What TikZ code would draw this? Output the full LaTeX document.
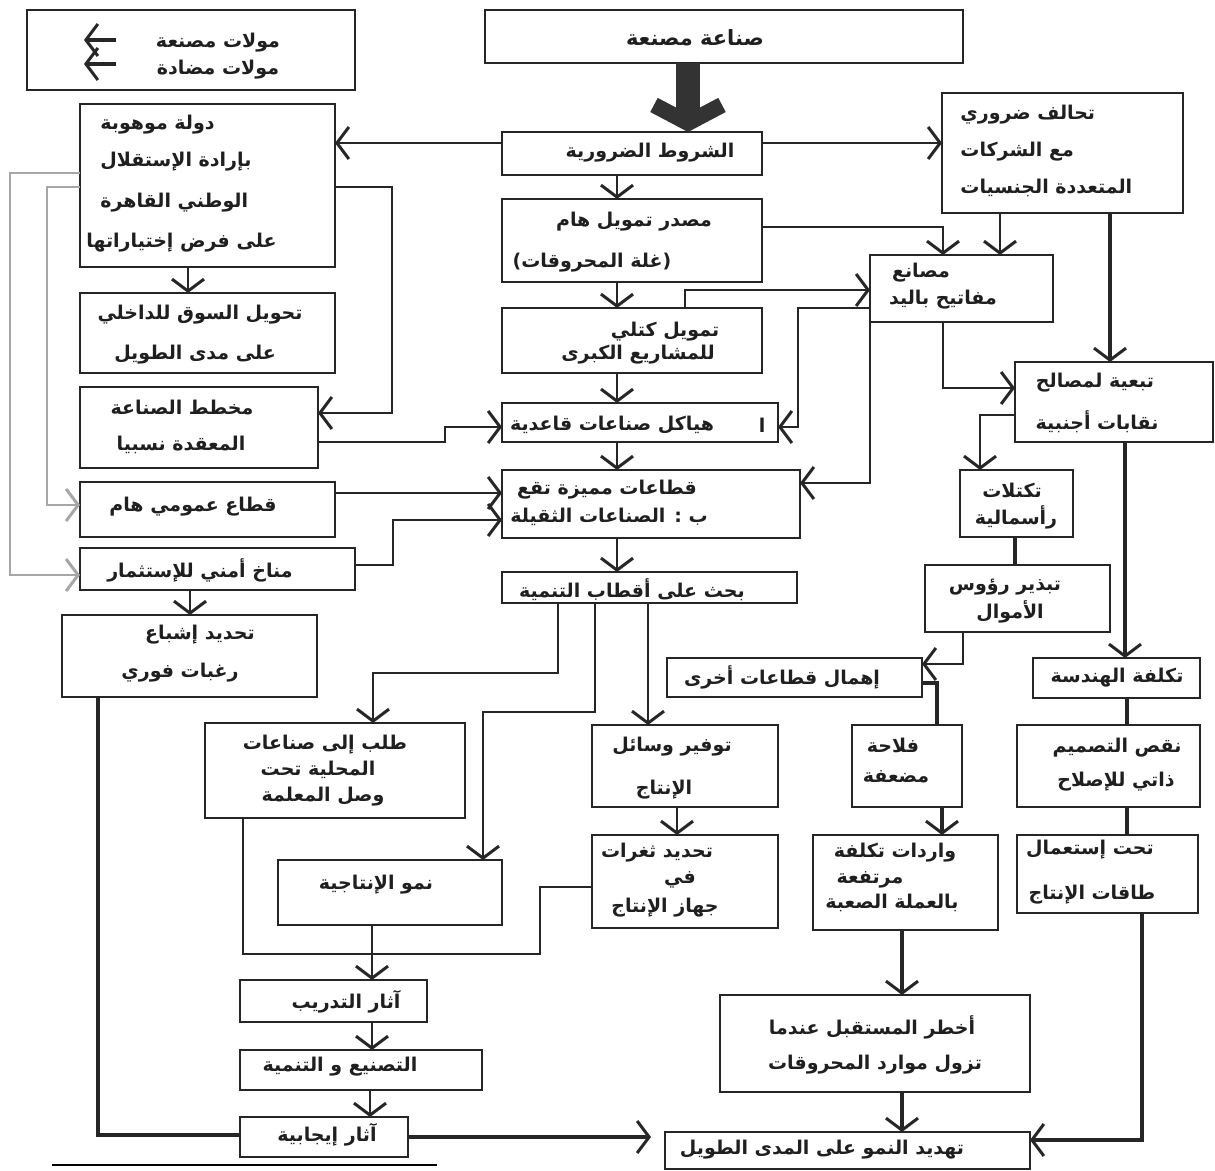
\documentclass[tikz,border=0pt]{standalone}
\usepackage{fontspec}
\newfontfamily\arabicfont[Script=Arabic]{DejaVu Sans}
\TeXXeTstate=1
\usetikzlibrary{arrows.meta}
\newcommand{\bx}[5]{\node[box, minimum width={(#4-#2)*0.5pt}, minimum height={(#5-#3)*0.5pt}] (#1) at ({(#2+#4)/2},{(#3+#5)/2}) {};}
\begin{document}
\begin{tikzpicture}[x=0.5pt,y=-0.5pt,
  box/.style={draw=black!85, line width=1.2pt, inner sep=0pt, outer sep=0pt},
  txt/.style={font=\arabicfont\bfseries\fontsize{9.5}{11}\selectfont, inner sep=0pt, text=black!88},
  lg/.style={font=\arabicfont\bfseries\fontsize{10.5}{12}\selectfont},
  conn/.style={draw=black!85, line width=1.1pt},
  thk/.style={line width=2.2pt},
  arr/.style={conn, -{Straight Barb[length=6pt,width=16pt,line width=1.5pt]}},
  faint/.style={draw=black!35, line width=0.9pt},
]
\useasboundingbox (0,0) rectangle (1215,1171);

% boxes
\bx{legend}{27}{10}{355}{90}
\bx{top}{485}{10}{963}{63}
\bx{shurut}{502}{132}{762}{175}
\bx{dawla}{80}{104}{335}{267}
\bx{tahwil}{80}{293}{335}{373}
\bx{mukhattat}{80}{387}{318}{468}
\bx{qita}{80}{482}{335}{537}
\bx{munakh}{80}{548}{355}{590}
\bx{tahdidi}{62}{615}{317}{697}
\bx{masdar}{502}{199}{762}{282}
\bx{tamwil}{502}{308}{762}{373}
\bx{hayakil}{502}{403}{778}{442}
\bx{qitaat}{502}{470}{800}{538}
\bx{bahth}{502}{572}{797}{603}
\bx{tahaluf}{942}{93}{1183}{213}
\bx{masani}{870}{255}{1053}{322}
\bx{tabaiya}{1015}{362}{1213}{442}
\bx{takattulat}{960}{470}{1073}{537}
\bx{tabdhir}{925}{565}{1110}{632}
\bx{ihmal}{667}{658}{922}{697}
\bx{tawfir}{592}{725}{778}{807}
\bx{tahdidth}{592}{835}{778}{928}
\bx{falaha}{852}{725}{962}{807}
\bx{waridat}{813}{835}{998}{930}
\bx{akhtar}{720}{995}{1030}{1092}
\bx{tahdidn}{665}{1132}{1030}{1169}
\bx{taklifa}{1033}{658}{1200}{698}
\bx{naqs}{1017}{725}{1200}{807}
\bx{taht}{1017}{835}{1198}{913}
\bx{talab}{205}{723}{465}{818}
\bx{numuw}{278}{860}{502}{925}
\bx{adrib}{240}{980}{427}{1022}
\bx{tasni}{240}{1050}{482}{1090}
\bx{ijab}{240}{1117}{408}{1157}

% texts
\node[txt] (lg-a) at (218,43) {\beginR مولات مصنعة\endR};
\node[txt] (lg-b) at (218,70) {\beginR مولات مضادة\endR};
\node[txt, lg] (top-t) at (695,38) {\beginR صناعة مصنعة\endR};
\node[txt] (shurut-t) at (650,153) {\beginR الشروط الضرورية\endR};
\node[txt, anchor=west] (dawla-a) at (100,125) {\beginR دولة موهوبة\endR};
\node[txt, anchor=west] (dawla-b) at (100,162) {\beginR بإرادة الإستقلال\endR};
\node[txt, anchor=west] (dawla-c) at (100,203) {\beginR الوطني القاهرة\endR};
\node[txt, anchor=west] (dawla-d) at (86,243) {\beginR على فرض إختياراتها\endR};
\node[txt] (tahwil-a) at (200,315) {\beginR تحويل السوق للداخلي\endR};
\node[txt] (tahwil-b) at (195,355) {\beginR على مدى الطويل\endR};
\node[txt] (mukhattat-a) at (182,408) {\beginR مخطط الصناعة\endR};
\node[txt] (mukhattat-b) at (181,445) {\beginR المعقدة نسبيا\endR};
\node[txt] (qita-t) at (193,507) {\beginR قطاع عمومي هام\endR};
\node[txt] (munakh-t) at (200,570) {\beginR مناخ أمني للإستثمار\endR};
\node[txt] (tahdidi-a) at (200,635) {\beginR تحديد إشباع\endR};
\node[txt] (tahdidi-b) at (180,673) {\beginR رغبات فوري\endR};
\node[txt] (masdar-a) at (634,222) {\beginR مصدر تمويل هام\endR};
\node[txt] (masdar-b) at (592,263) {\beginR (غلة المحروقات)\endR};
\node[txt] (tamwil-a) at (665,332) {\beginR تمويل كتلي\endR};
\node[txt] (tamwil-b) at (638,355) {\beginR للمشاريع الكبرى\endR};
\node[txt] (hayakil-t) at (612,425) {\beginR هياكل صناعات قاعدية\endR};
\node[txt] (hayakil-s) at (762,425) {\beginR ا\endR};
\node[txt] (qitaat-a) at (607,490) {\beginR قطاعات مميزة تقع\endR};
\node[txt] (qitaat-b) at (609,517) {\beginR ب : الصناعات الثقيلة\endR};
\node[txt] (bahth-t) at (632,590) {\beginR بحث على أقطاب التنمية\endR};
\node[txt, anchor=west] (tahaluf-a) at (960,115) {\beginR تحالف ضروري\endR};
\node[txt, anchor=west] (tahaluf-b) at (960,152) {\beginR مع الشركات\endR};
\node[txt, anchor=west] (tahaluf-c) at (960,188) {\beginR المتعددة الجنسيات\endR};
\node[txt] (masani-a) at (921,273) {\beginR مصانع\endR};
\node[txt] (masani-b) at (943,300) {\beginR مفاتيح باليد\endR};
\node[txt] (tabaiya-a) at (1095,383) {\beginR تبعية لمصالح\endR};
\node[txt] (tabaiya-b) at (1097,422) {\beginR نقابات أجنبية\endR};
\node[txt] (takattulat-a) at (1012,490) {\beginR تكتلات\endR};
\node[txt] (takattulat-b) at (1016,517) {\beginR رأسمالية\endR};
\node[txt] (tabdhir-a) at (1005,587) {\beginR تبذير رؤوس\endR};
\node[txt] (tabdhir-b) at (1010,612) {\beginR الأموال\endR};
\node[txt] (ihmal-t) at (782,677) {\beginR إهمال قطاعات أخرى\endR};
\node[txt] (tawfir-a) at (672,747) {\beginR توفير وسائل\endR};
\node[txt] (tawfir-b) at (664,790) {\beginR الإنتاج\endR};
\node[txt] (tahdidth-a) at (657,853) {\beginR تحديد ثغرات\endR};
\node[txt] (tahdidth-b) at (680,880) {\beginR في\endR};
\node[txt] (tahdidth-c) at (665,908) {\beginR جهاز الإنتاج\endR};
\node[txt] (falaha-a) at (893,745) {\beginR فلاحة\endR};
\node[txt] (falaha-b) at (896,777) {\beginR مضعفة\endR};
\node[txt] (waridat-a) at (895,853) {\beginR واردات تكلفة\endR};
\node[txt] (waridat-b) at (870,880) {\beginR مرتفعة\endR};
\node[txt] (waridat-c) at (892,903) {\beginR بالعملة الصعبة\endR};
\node[txt] (akhtar-a) at (872,1027) {\beginR أخطر المستقبل عندما\endR};
\node[txt] (akhtar-b) at (875,1065) {\beginR تزول موارد المحروقات\endR};
\node[txt] (tahdidn-t) at (822,1150) {\beginR تهديد النمو على المدى الطويل\endR};
\node[txt] (taklifa-t) at (1117,678) {\beginR تكلفة الهندسة\endR};
\node[txt] (naqs-a) at (1117,748) {\beginR نقص التصميم\endR};
\node[txt] (naqs-b) at (1116,782) {\beginR ذاتي للإصلاح\endR};
\node[txt] (taht-a) at (1090,850) {\beginR تحت إستعمال\endR};
\node[txt] (taht-b) at (1092,895) {\beginR طاقات الإنتاج\endR};
\node[txt] (talab-a) at (325,745) {\beginR طلب إلى صناعات\endR};
\node[txt] (talab-b) at (318,770) {\beginR المحلية تحت\endR};
\node[txt] (talab-c) at (323,797) {\beginR وصل المعلمة\endR};
\node[txt] (numuw-t) at (376,885) {\beginR نمو الإنتاجية\endR};
\node[txt] (adrib-t) at (346,1002) {\beginR آثار التدريب\endR};
\node[txt] (tasni-t) at (340,1067) {\beginR التصنيع و التنمية\endR};
\node[txt] (ijab-t) at (327,1135) {\beginR آثار إيجابية\endR};

% legend arrows
\coordinate (lg1s) at (116,40); \coordinate (lg1e) at (84,40);
\coordinate (lg2s) at (116,64); \coordinate (lg2e) at (84,64);
\draw[arr, thk] (lg1s) -- (lg1e);
\draw[arr, thk] (lg2s) -- (lg2e);

% big block arrow
\draw[black!80, line width=12pt, -{Straight Barb[length=9pt,width=34pt,line width=8pt]}] (top.south -| 688,0) -- (shurut.north -| 688,0);

% connectors
\draw[arr] (shurut.west |- 0,143) -- (dawla.east |- 0,143);
\draw[arr] (shurut.east |- 0,143) -- (tahaluf.west |- 0,143);
\draw[arr] (shurut.south -| 617,0) -- (masdar.north -| 617,0);
\draw[arr] (masdar.south -| 617,0) -- (tamwil.north -| 617,0);
\draw[arr] (tamwil.south -| 617,0) -- (hayakil.north -| 617,0);
\draw[arr] (hayakil.south -| 617,0) -- (qitaat.north -| 617,0);
\draw[arr] (qitaat.south -| 617,0) -- (bahth.north -| 617,0);
\draw[arr] (masdar.east |- 0,227) -| (masani.north -| 943,0);
\draw[arr] (tahaluf.south -| 1000,0) -- (masani.north -| 1000,0);
\draw[arr] (tamwil.north -| 685,0) |- (masani.west |- 0,290);
\draw[arr] (masani.west |- 0,308) -- (798,308) -- (798,427) -- (hayakil.east |- 0,427);
\draw[arr] (masani.south west) -- (masani.south west |- 0,483) -- (qitaat.east |- 0,483);
\draw[arr] (masani.south -| 943,0) |- (tabaiya.west |- 0,388);
\draw[arr, thk] (tahaluf.south -| 1110,0) -- (tabaiya.north -| 1110,0);
\draw[arr] (tabaiya.west |- 0,415) -| (takattulat.north -| 980,0);
\draw[arr, thk] (tabaiya.south -| 1125,0) -- (taklifa.north -| 1125,0);
\draw[conn, thk] (takattulat.south -| 1015,0) -- (tabdhir.north -| 1015,0);
\draw[arr] (tabdhir.south -| 963,0) |- (ihmal.east |- 0,664);
\draw[conn, thk] (ihmal.east |- 0,683) -| (falaha.north -| 937,0);
\draw[arr, thk] (falaha.south -| 942,0) -- (waridat.north -| 942,0);
\draw[arr, thk] (waridat.south -| 902,0) -- (akhtar.north -| 902,0);
\draw[arr, thk] (akhtar.south -| 902,0) -- (tahdidn.north -| 902,0);
\draw[conn, thk] (taklifa.south -| 1127,0) -- (naqs.north -| 1127,0);
\draw[conn, thk] (naqs.south -| 1127,0) -- (taht.north -| 1127,0);
\draw[arr, thk] (taht.south -| 1142,0) |- (tahdidn.east |- 0,1140);
\draw[arr] (bahth.south -| 558,0) -- (558,673) -| (talab.north -| 373,0);
\draw[arr] (bahth.south -| 595,0) -- (595,712) -| (numuw.north -| 483,0);
\draw[arr] (bahth.south -| 648,0) -- (tawfir.north -| 648,0);
\draw[arr] (tawfir.south -| 677,0) -- (tahdidth.north -| 677,0);
\coordinate (jn) at (372,954);
\draw[conn] (tahdidth.west |- 0,887) -- (540,887) -- (540,954) -- (jn);
\draw[conn] (talab.south -| 243,0) |- (jn);
\draw[arr] (numuw.south -| 372,0) -- (adrib.north -| 372,0);
\draw[arr] (adrib.south -| 372,0) -- (tasni.north -| 372,0);
\draw[arr] (tasni.south -| 370,0) -- (ijab.north -| 370,0);
\draw[arr, thk, shorten >=7pt] (ijab.east |- 0,1137) -- (tahdidn.west |- 0,1137);
\draw[conn, thk] (tahdidi.south -| 98,0) |- (ijab.west |- 0,1135);
\draw[arr] (dawla.south -| 188,0) -- (tahwil.north -| 188,0);
\draw[arr] (dawla.east |- 0,187) -- (392,187) -- (392,413) -- (mukhattat.east |- 0,413);
\draw[arr, faint] (dawla.west |- 0,173) -- (10,173) -- (10,575) -- (munakh.west |- 0,575);
\draw[arr, faint] (dawla.west |- 0,187) -- (47,187) -- (47,505) -- (qita.west |- 0,505);
\draw[arr] (mukhattat.east |- 0,442) -- (445,442) -- (445,427) -- (hayakil.west |- 0,427);
\draw[arr] (qita.east |- 0,493) -- (qitaat.west |- 0,493);
\draw[arr] (munakh.east |- 0,565) -- (393,565) -- (393,520) -- (qitaat.west |- 0,520);
\draw[arr] (munakh.south -| 190,0) -- (tahdidi.north -| 190,0);

% footnote rule
\coordinate (fr1) at (52,1165); \coordinate (fr2) at (437,1165);
\draw[line width=1.4pt] (fr1) -- (fr2);
\end{tikzpicture}
\end{document}
